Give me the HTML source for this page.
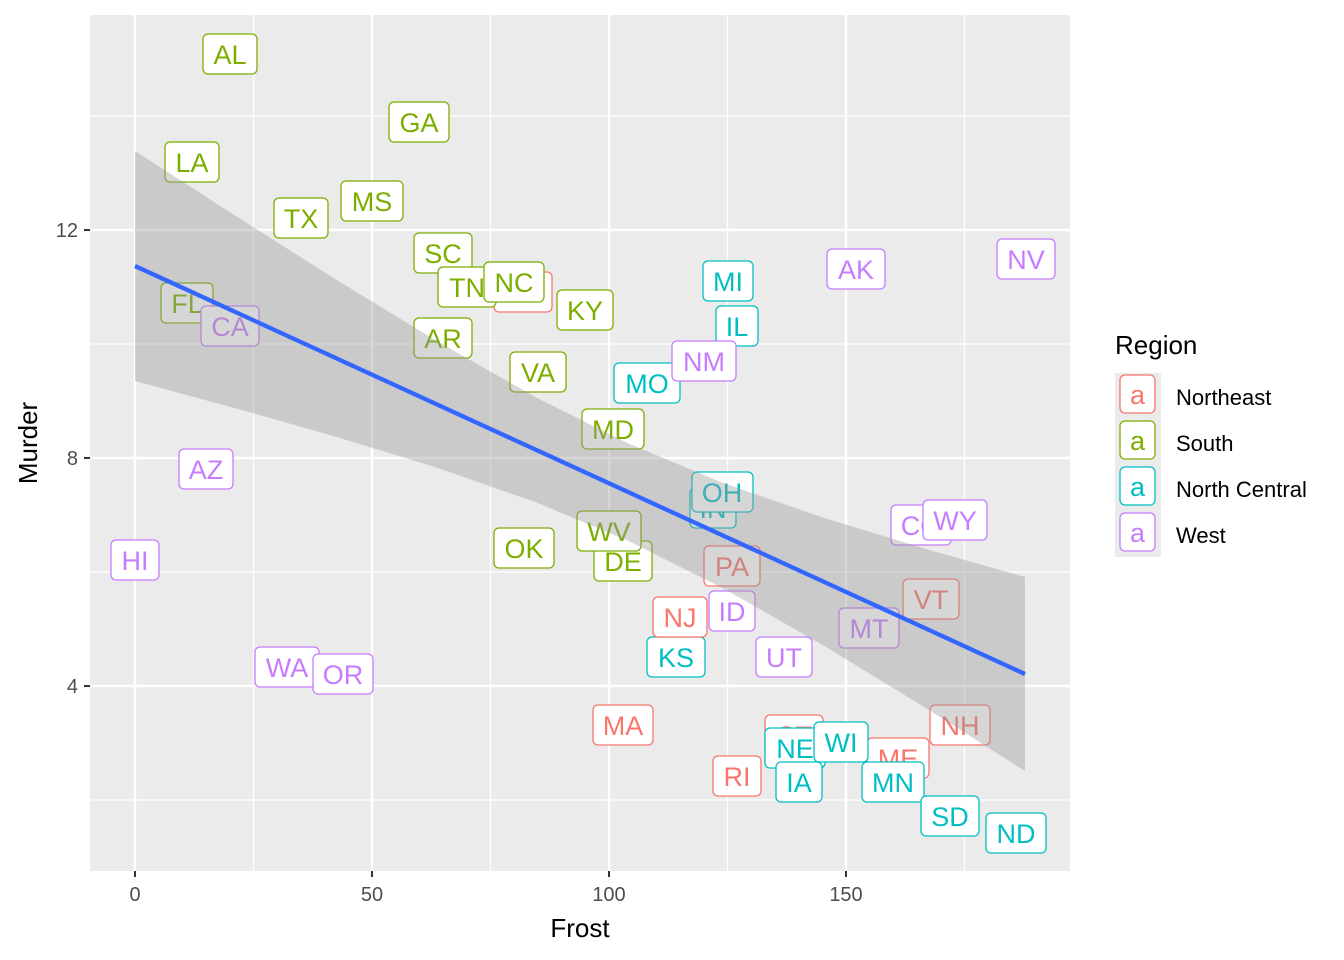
<!DOCTYPE html>
<html><head><meta charset="utf-8"><style>body{margin:0;background:#fff}svg{display:block}text{font-family:"Liberation Sans",sans-serif}</style></head><body>
<svg width="1344" height="960" xmlns="http://www.w3.org/2000/svg">
<rect x="90" y="15" width="980" height="856" fill="#EBEBEB"/>
<g stroke="#fff" stroke-width="1.2">
<line x1="253.5" y1="15" x2="253.5" y2="871"/><line x1="490.5" y1="15" x2="490.5" y2="871"/><line x1="727.5" y1="15" x2="727.5" y2="871"/><line x1="964.5" y1="15" x2="964.5" y2="871"/>
<line x1="90" y1="116" x2="1070" y2="116"/><line x1="90" y1="344" x2="1070" y2="344"/><line x1="90" y1="572" x2="1070" y2="572"/><line x1="90" y1="800" x2="1070" y2="800"/>
</g>
<g stroke="#fff" stroke-width="2.4">
<line x1="135" y1="15" x2="135" y2="871"/><line x1="372" y1="15" x2="372" y2="871"/><line x1="609" y1="15" x2="609" y2="871"/><line x1="846" y1="15" x2="846" y2="871"/>
<line x1="90" y1="230" x2="1070" y2="230"/><line x1="90" y1="458" x2="1070" y2="458"/><line x1="90" y1="686" x2="1070" y2="686"/>
</g>
<g font-size="27" text-anchor="middle" stroke-width="1.3">
<g stroke="#7CAE00" fill="#7CAE00">
<rect x="203" y="34" width="54" height="40" rx="5" fill="#fff"/><text x="230" y="64" stroke="none">AL</text>
<rect x="389" y="102" width="60" height="40" rx="5" fill="#fff"/><text x="419" y="132" stroke="none">GA</text>
<rect x="165" y="142" width="54" height="40" rx="5" fill="#fff"/><text x="192" y="172" stroke="none">LA</text>
<rect x="274" y="198" width="54" height="40" rx="5" fill="#fff"/><text x="301" y="228" stroke="none">TX</text>
<rect x="341" y="181" width="62" height="40" rx="5" fill="#fff"/><text x="372" y="211" stroke="none">MS</text>
<rect x="414" y="233" width="58" height="40" rx="5" fill="#fff"/><text x="443" y="263" stroke="none">SC</text>
</g>
<g stroke="#F8766D" fill="#F8766D"><rect x="494" y="272" width="58" height="40" rx="5" fill="#fff"/><text x="523" y="302" stroke="none">NY</text></g>
<g stroke="#7CAE00" fill="#7CAE00">
<rect x="438" y="267" width="58" height="40" rx="5" fill="#fff"/><text x="467" y="297" stroke="none">TN</text>
<rect x="484" y="262" width="60" height="40" rx="5" fill="#fff"/><text x="514" y="292" stroke="none">NC</text>
<rect x="557" y="290" width="56" height="40" rx="5" fill="#fff"/><text x="585" y="320" stroke="none">KY</text>
<rect x="161" y="283" width="52" height="40" rx="5" fill="#fff"/><text x="187" y="313" stroke="none">FL</text>
</g>
<g stroke="#C77CFF" fill="#C77CFF"><rect x="201" y="306" width="58" height="40" rx="5" fill="#fff"/><text x="230" y="336" stroke="none">CA</text></g>
<g stroke="#7CAE00" fill="#7CAE00">
<rect x="414" y="318" width="58" height="40" rx="5" fill="#fff"/><text x="443" y="348" stroke="none">AR</text>
<rect x="510" y="352" width="56" height="40" rx="5" fill="#fff"/><text x="538" y="382" stroke="none">VA</text>
<rect x="582" y="409" width="62" height="40" rx="5" fill="#fff"/><text x="613" y="439" stroke="none">MD</text>
<rect x="494" y="528" width="60" height="40" rx="5" fill="#fff"/><text x="524" y="558" stroke="none">OK</text>
<rect x="594" y="541" width="58" height="40" rx="5" fill="#fff"/><text x="623" y="571" stroke="none">DE</text>
<rect x="577" y="511" width="64" height="40" rx="5" fill="#fff"/><text x="609" y="541" stroke="none">WV</text>
</g>
<g stroke="#00BFC4" fill="#00BFC4">
<rect x="703" y="261" width="50" height="40" rx="5" fill="#fff"/><text x="728" y="291" stroke="none">MI</text>
<rect x="716" y="306" width="42" height="40" rx="5" fill="#fff"/><text x="737" y="336" stroke="none">IL</text>
<rect x="614" y="363" width="66" height="40" rx="5" fill="#fff"/><text x="647" y="393" stroke="none">MO</text>
<rect x="690" y="488" width="46" height="40" rx="5" fill="#fff"/><text x="713" y="518" stroke="none">IN</text>
<rect x="692" y="472" width="61" height="40" rx="5" fill="#fff"/><text x="722" y="502" stroke="none">OH</text>
<rect x="647" y="637" width="58" height="40" rx="5" fill="#fff"/><text x="676" y="667" stroke="none">KS</text>
</g>
<g stroke="#C77CFF" fill="#C77CFF">
<rect x="827" y="249" width="58" height="40" rx="5" fill="#fff"/><text x="856" y="279" stroke="none">AK</text>
<rect x="997" y="239" width="58" height="40" rx="5" fill="#fff"/><text x="1026" y="269" stroke="none">NV</text>
<rect x="672" y="341" width="64" height="40" rx="5" fill="#fff"/><text x="704" y="371" stroke="none">NM</text>
<rect x="179" y="449" width="54" height="40" rx="5" fill="#fff"/><text x="206" y="479" stroke="none">AZ</text>
<rect x="111" y="540" width="48" height="40" rx="5" fill="#fff"/><text x="135" y="570" stroke="none">HI</text>
<rect x="891" y="505" width="60" height="40" rx="5" fill="#fff"/><text x="921" y="535" stroke="none">CO</text>
<rect x="923" y="500" width="64" height="40" rx="5" fill="#fff"/><text x="955" y="530" stroke="none">WY</text>
<rect x="709" y="591" width="46" height="40" rx="5" fill="#fff"/><text x="732" y="621" stroke="none">ID</text>
<rect x="839" y="608" width="60" height="40" rx="5" fill="#fff"/><text x="869" y="638" stroke="none">MT</text>
<rect x="756" y="637" width="56" height="40" rx="5" fill="#fff"/><text x="784" y="667" stroke="none">UT</text>
<rect x="255" y="647" width="64" height="40" rx="5" fill="#fff"/><text x="287" y="677" stroke="none">WA</text>
<rect x="313" y="654" width="60" height="40" rx="5" fill="#fff"/><text x="343" y="684" stroke="none">OR</text>
</g>
<g stroke="#F8766D" fill="#F8766D">
<rect x="704" y="546" width="56" height="40" rx="5" fill="#fff"/><text x="732" y="576" stroke="none">PA</text>
<rect x="903" y="579" width="56" height="40" rx="5" fill="#fff"/><text x="931" y="609" stroke="none">VT</text>
<rect x="653" y="597" width="54" height="40" rx="5" fill="#fff"/><text x="680" y="627" stroke="none">NJ</text>
<rect x="593" y="705" width="60" height="40" rx="5" fill="#fff"/><text x="623" y="735" stroke="none">MA</text>
<rect x="930" y="705" width="60" height="40" rx="5" fill="#fff"/><text x="960" y="735" stroke="none">NH</text>
<rect x="765" y="715" width="58" height="40" rx="5" fill="#fff"/><text x="794" y="745" stroke="none">CT</text>
<rect x="867" y="738" width="62" height="40" rx="5" fill="#fff"/><text x="898" y="768" stroke="none">ME</text>
<rect x="713" y="756" width="48" height="40" rx="5" fill="#fff"/><text x="737" y="786" stroke="none">RI</text>
</g>
<g stroke="#00BFC4" fill="#00BFC4">
<rect x="765" y="728" width="60" height="40" rx="5" fill="#fff"/><text x="795" y="758" stroke="none">NE</text>
<rect x="814" y="722" width="54" height="40" rx="5" fill="#fff"/><text x="841" y="752" stroke="none">WI</text>
<rect x="776" y="762" width="46" height="40" rx="5" fill="#fff"/><text x="799" y="792" stroke="none">IA</text>
<rect x="862" y="762" width="62" height="40" rx="5" fill="#fff"/><text x="893" y="792" stroke="none">MN</text>
<rect x="921" y="796" width="58" height="40" rx="5" fill="#fff"/><text x="950" y="826" stroke="none">SD</text>
<rect x="986" y="813" width="60" height="40" rx="5" fill="#fff"/><text x="1016" y="843" stroke="none">ND</text>
</g>
</g>
<path d="M135,151 L235,215.5 L335,278.9 L435,340 L535,396.9 L628,443.3 L725,483.7 L825,518.2 L925,548.7 L1025,577 L1025,771 L925,707.5 L825,646.4 L725,589.3 L628,540.7 L535,501.9 L435,467 L335,436.5 L235,408.1 L135,381 Z" fill="#999999" fill-opacity="0.4"/>
<line x1="135" y1="266" x2="1025" y2="674" stroke="#3366FF" stroke-width="4.3"/>
<g stroke="#333" stroke-width="2">
<line x1="84" y1="230" x2="90" y2="230"/><line x1="84" y1="458" x2="90" y2="458"/><line x1="84" y1="686" x2="90" y2="686"/>
<line x1="135" y1="871" x2="135" y2="877"/><line x1="372" y1="871" x2="372" y2="877"/><line x1="609" y1="871" x2="609" y2="877"/><line x1="846" y1="871" x2="846" y2="877"/>
</g>
<g font-size="20" fill="#4D4D4D">
<text x="78" y="237" text-anchor="end">12</text><text x="78" y="465" text-anchor="end">8</text><text x="78" y="693" text-anchor="end">4</text>
<text x="135" y="901" text-anchor="middle">0</text><text x="372" y="901" text-anchor="middle">50</text><text x="609" y="901" text-anchor="middle">100</text><text x="846" y="901" text-anchor="middle">150</text>
</g>
<text x="580" y="937" font-size="26" text-anchor="middle">Frost</text>
<text transform="translate(37,443) rotate(-90)" font-size="26" text-anchor="middle">Murder</text>
<text x="1115" y="354" font-size="26">Region</text>
<rect x="1115" y="373" width="46" height="184" fill="#EBEBEB"/>
<g font-size="27" text-anchor="middle" stroke-width="1.3">
<rect x="1120" y="375" width="35" height="38" rx="5" fill="#fff" stroke="#F8766D"/><text x="1137.5" y="404" fill="#F8766D">a</text>
<rect x="1120" y="421" width="35" height="38" rx="5" fill="#fff" stroke="#7CAE00"/><text x="1137.5" y="450" fill="#7CAE00">a</text>
<rect x="1120" y="467" width="35" height="38" rx="5" fill="#fff" stroke="#00BFC4"/><text x="1137.5" y="496" fill="#00BFC4">a</text>
<rect x="1120" y="513" width="35" height="38" rx="5" fill="#fff" stroke="#C77CFF"/><text x="1137.5" y="542" fill="#C77CFF">a</text>
</g>
<g font-size="22">
<text x="1176" y="405">Northeast</text><text x="1176" y="451">South</text><text x="1176" y="497">North Central</text><text x="1176" y="543">West</text>
</g>
</svg>
</body></html>
